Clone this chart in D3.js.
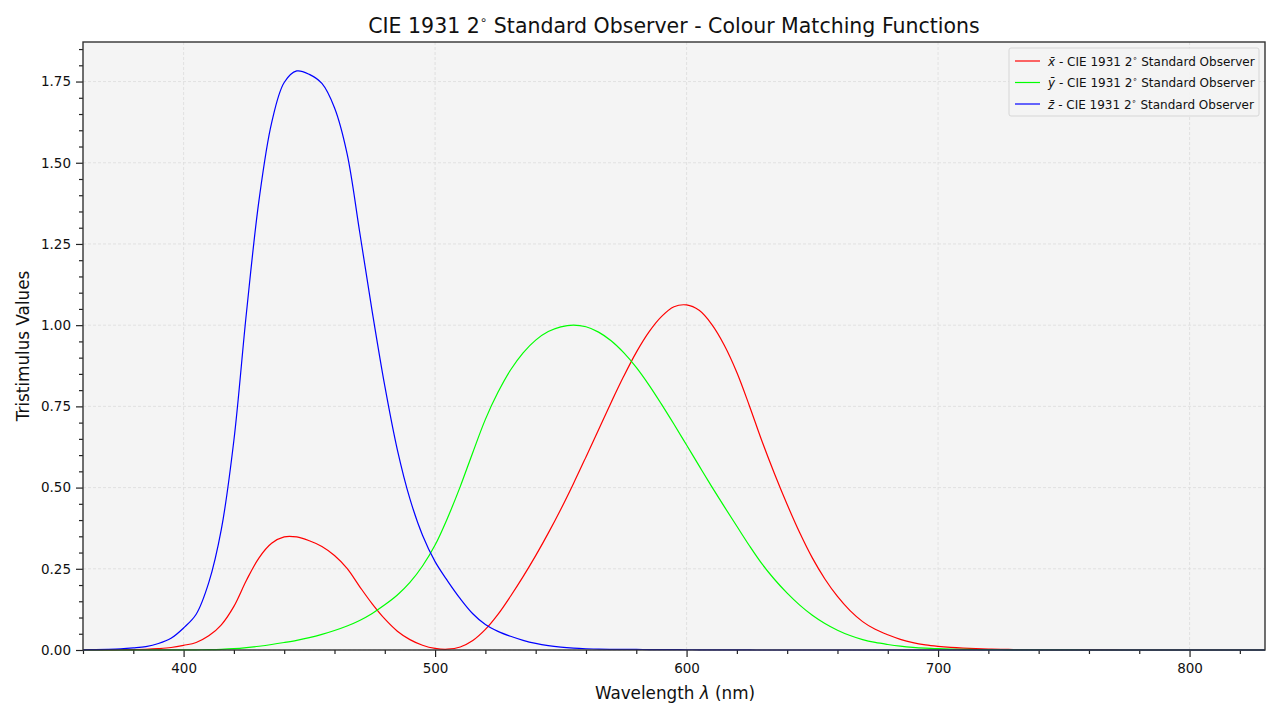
<!DOCTYPE html>
<html>
<head>
<meta charset="utf-8">
<script src="https://cdn.jsdelivr.net/npm/d3@7"></script>
<style>
  body { margin: 0; background: #fff; }
  svg { font-family: "DejaVu Sans", sans-serif; }
</style>
</head>
<body>
<svg id="chart" width="1280" height="720"></svg>
<script>
// CIE 1931 2 degree standard observer, 5 nm steps, 360..830 nm
const wavelengths = d3.range(360, 831, 5);
const xBar = [
  0.0001299, 0.0002321, 0.0004149, 0.0007416, 0.001368, 0.002236, 0.004243, 0.00765,
  0.01431, 0.02319, 0.04351, 0.07763, 0.13438, 0.21477, 0.2839, 0.3285,
  0.34828, 0.34806, 0.3362, 0.3187, 0.2908, 0.2511, 0.19536, 0.1421,
  0.09564, 0.05795, 0.03201, 0.0147, 0.0049, 0.0024, 0.0093, 0.0291,
  0.06327, 0.1096, 0.1655, 0.22575, 0.2904, 0.3597, 0.43345, 0.51205,
  0.5945, 0.6784, 0.7621, 0.8425, 0.9163, 0.9786, 1.0263, 1.0567,
  1.0622, 1.0456, 1.0026, 0.9384, 0.85445, 0.7514, 0.6424, 0.5419,
  0.4479, 0.3608, 0.2835, 0.2187, 0.1649, 0.1212, 0.0874, 0.0636,
  0.04677, 0.0329, 0.0227, 0.01584, 0.011359, 0.008111, 0.00579, 0.004109,
  0.002899, 0.002049, 0.00144, 0.001, 0.00069, 0.000476, 0.000332, 0.000235,
  0.000166, 0.000117, 0.0000831, 0.0000587, 0.0000415, 0.0000294, 0.0000207, 0.0000146,
  0.0000103, 0.0000072, 0.0000051, 0.0000036, 0.0000025, 0.0000018, 0.0000013
];
const yBar = [
  0.000003917, 0.000006965, 0.00001239, 0.00002202, 0.000039, 0.000064, 0.00012, 0.000217,
  0.000396, 0.00064, 0.00121, 0.00218, 0.004, 0.0073, 0.0116, 0.01684,
  0.023, 0.0298, 0.038, 0.048, 0.06, 0.0739, 0.09098, 0.1126,
  0.13902, 0.1693, 0.20802, 0.2586, 0.323, 0.4073, 0.503, 0.6082,
  0.71, 0.7932, 0.862, 0.91485, 0.954, 0.9803, 0.99495, 1.0,
  0.995, 0.9786, 0.952, 0.9154, 0.87, 0.8163, 0.757, 0.6949,
  0.631, 0.5668, 0.503, 0.4412, 0.381, 0.321, 0.265, 0.217,
  0.175, 0.1382, 0.107, 0.0816, 0.061, 0.04458, 0.032, 0.0232,
  0.017, 0.01192, 0.00821, 0.005723, 0.004102, 0.002929, 0.002091, 0.001484,
  0.001047, 0.00074, 0.00052, 0.000361, 0.000249, 0.000172, 0.00012, 0.0000848,
  0.00006, 0.0000424, 0.00003, 0.0000212, 0.000015, 0.0000106, 0.0000075, 0.0000053,
  0.0000037, 0.0000026, 0.0000018, 0.0000013, 0.0000009, 0.0000006, 0.0000005
];
const zBar = [
  0.0006061, 0.001086, 0.001946, 0.003486, 0.00645, 0.01055, 0.02005, 0.03621,
  0.06785, 0.1102, 0.2074, 0.3713, 0.6456, 1.03905, 1.3856, 1.62296,
  1.74706, 1.7826, 1.77211, 1.7441, 1.6692, 1.5281, 1.28764, 1.0419,
  0.81295, 0.6162, 0.46518, 0.3533, 0.272, 0.2123, 0.1582, 0.1117,
  0.07825, 0.05725, 0.04216, 0.02984, 0.0203, 0.0134, 0.00875, 0.00575,
  0.0039, 0.00275, 0.0021, 0.0018, 0.00165, 0.0014, 0.0011, 0.001,
  0.0008, 0.0006, 0.00034, 0.00024, 0.00019, 0.0001, 0.00005, 0.00003,
  0.00002, 0.00001, 0, 0, 0, 0, 0, 0,
  0, 0, 0, 0, 0, 0, 0, 0,
  0, 0, 0, 0, 0, 0, 0, 0,
  0, 0, 0, 0, 0, 0, 0, 0,
  0, 0, 0, 0, 0, 0, 0
];
const seriesNames = ["x", "y", "z"];
const seriesColors = ["#ff0000", "#00ff00", "#0000ff"];
const xTicks = [400, 500, 600, 700, 800];
const yTicks = [0, 0.25, 0.5, 0.75, 1.0, 1.25, 1.5, 1.75];

const svg = d3.select("#chart");
const margin = {top: 42, right: 15, bottom: 70, left: 83};
const W = 1280, H = 720;
const iw = W - margin.left - margin.right;
const ih = H - margin.top - margin.bottom;

const x = d3.scaleLinear().domain([360, 830]).range([0, iw]);
const yMax = d3.max(zBar) * 1.05;
const y = d3.scaleLinear().domain([0, yMax]).range([ih, 0]);

const g = svg.append("g").attr("transform", `translate(${margin.left},${margin.top})`);

g.append("rect").attr("width", iw).attr("height", ih).attr("fill", "#f4f4f4");

// grid
g.append("g").selectAll("line").data(xTicks).join("line")
  .attr("x1", d => x(d)).attr("x2", d => x(d)).attr("y1", 0).attr("y2", ih)
  .attr("stroke", "#dcdcdc").attr("stroke-width", 0.8).attr("stroke-dasharray", "3,2");
g.append("g").selectAll("line").data(yTicks).join("line")
  .attr("y1", d => y(d)).attr("y2", d => y(d)).attr("x1", 0).attr("x2", iw)
  .attr("stroke", "#dcdcdc").attr("stroke-width", 0.8).attr("stroke-dasharray", "3,2");

// axes
const xAxis = g.append("g").attr("transform", `translate(0,${ih})`)
  .call(d3.axisBottom(x).tickValues(xTicks).tickSize(7).tickPadding(6).tickFormat(d3.format("d")));
const xMinor = g.append("g").attr("transform", `translate(0,${ih})`)
  .call(d3.axisBottom(x).tickValues(d3.range(360, 831, 20).filter(v => v % 100 !== 0)).tickSize(4).tickFormat(""));
const yAxis = g.append("g")
  .call(d3.axisLeft(y).tickValues(yTicks).tickSize(7).tickPadding(5).tickFormat(d3.format(".2f")));
const yMinor = g.append("g")
  .call(d3.axisLeft(y).tickValues(d3.range(0, 1.86, 0.05).filter(v => Math.abs(v / 0.25 - Math.round(v / 0.25)) > 1e-6)).tickSize(4).tickFormat(""));

[xAxis, xMinor, yAxis, yMinor].forEach(a => {
  a.select(".domain").remove();
  a.selectAll(".tick line").attr("stroke", "#222").attr("stroke-width", 1.2);
  a.selectAll("text").attr("font-size", 13.5).attr("fill", "#111").attr("font-family", "DejaVu Sans");
});

// curves
const seriesData = [xBar, yBar, zBar];
const line = d3.line().x((d, i) => x(wavelengths[i])).y(d => y(d)).curve(d3.curveCatmullRom);
seriesData.forEach((s, k) => {
  g.append("path").datum(s).attr("d", line)
    .attr("fill", "none").attr("stroke", seriesColors[k]).attr("stroke-width", 1.2);
});

// frame
g.append("rect").attr("width", iw).attr("height", ih)
  .attr("fill", "none").attr("stroke", "#333").attr("stroke-width", 1.4);

// title
const title = svg.append("text").attr("x", margin.left + iw / 2).attr("y", 33)
  .attr("text-anchor", "middle").attr("font-size", 20.5).attr("fill", "#111");
title.append("tspan").text("CIE 1931 2");
title.append("tspan").attr("font-size", 12).attr("dy", -9).text("∘");
title.append("tspan").attr("dy", 9).text("  Standard Observer - Colour Matching Functions");

// axis labels
const xl = svg.append("text").attr("x", margin.left + iw / 2 + 1).attr("y", 699)
  .attr("text-anchor", "middle").attr("font-size", 16.8).attr("fill", "#111");
xl.append("tspan").text("Wavelength ");
xl.append("tspan").attr("font-style", "italic").text("λ");
xl.append("tspan").text(" (nm)");

svg.append("text").attr("transform", `translate(29,${margin.top + ih / 2}) rotate(-90)`)
  .attr("text-anchor", "middle").attr("font-size", 16.8).attr("fill", "#111")
  .text("Tristimulus Values");

// legend
const lg = g.append("g").attr("transform", `translate(${iw - 256},6)`);
lg.append("rect").attr("width", 250).attr("height", 68).attr("rx", 2)
  .attr("fill", "#f4f4f4").attr("fill-opacity", 0.9).attr("stroke", "#d6d6d6");
seriesNames.forEach((n, k) => {
  const row = lg.append("g").attr("transform", `translate(0,${13 + k * 21.5})`);
  row.append("line").attr("x1", 6).attr("x2", 31).attr("y1", 0).attr("y2", 0)
    .attr("stroke", seriesColors[k]).attr("stroke-width", 1.2);
  const t = row.append("text").attr("x", 39).attr("y", 4.5).attr("font-size", 12).attr("fill", "#111");
  t.append("tspan").attr("font-style", "italic").text(n + "\u0304");
  t.append("tspan").text(" - CIE 1931 2");
  t.append("tspan").attr("font-size", 8).attr("dy", -5).text("∘");
  t.append("tspan").attr("dy", 5).text("  Standard Observer");
});
</script>
</body>
</html>
